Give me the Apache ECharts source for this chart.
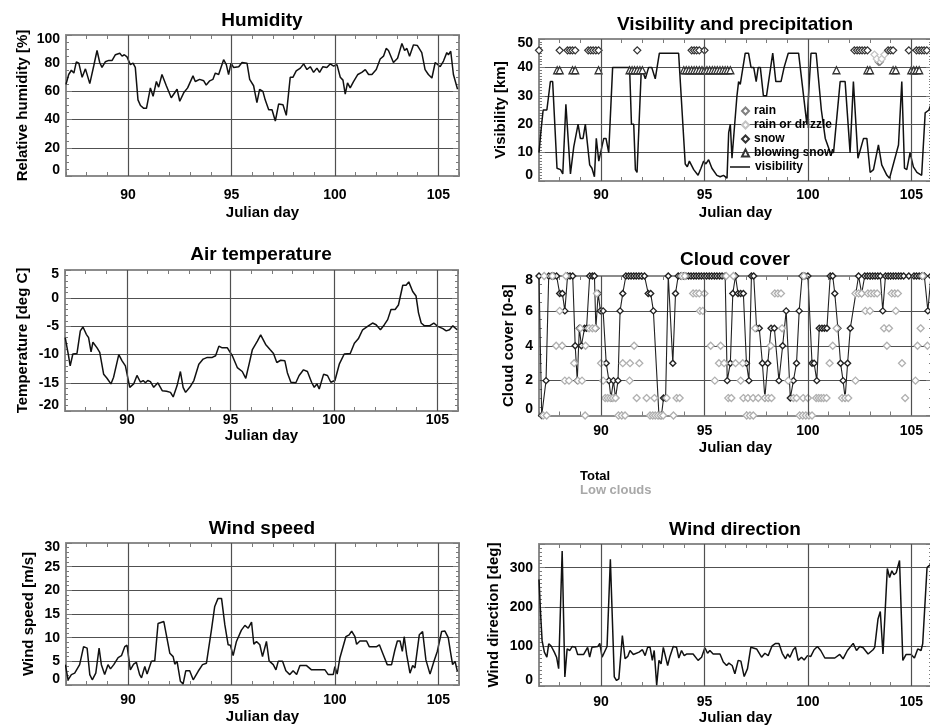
<!DOCTYPE html>
<html>
<head>
<meta charset="utf-8">
<title>Meteorological time series, Julian day 87-106</title>
<script src="https://cdn.jsdelivr.net/npm/echarts@6/dist/echarts.min.js"></script>
<style>
  html, body { margin: 0; padding: 0; background: #fff; }
  #chart { width: 930px; height: 727px; }
</style>
</head>
<body>
<div id="chart"></div>
<script>
// ---- data: [julian day, value] ----
const humidity = [[87.0,65],[87.13,72],[87.26,75],[87.38,73],[87.5,81],[87.62,80],[87.78,70],[87.94,76],[88.02,76],[88.15,65.5],[88.34,78],[88.5,89],[88.63,80.5],[88.74,77],[88.9,81],[89.07,82],[89.23,82],[89.39,86],[89.6,87],[89.71,85],[89.82,86],[89.95,84.5],[90.11,79],[90.24,80],[90.35,77],[90.48,54],[90.6,50],[90.76,48],[90.89,48],[91.08,62.5],[91.21,56.5],[91.37,67],[91.48,63],[91.64,72],[91.85,64],[92.09,55.5],[92.37,61.5],[92.5,53],[92.69,59],[92.88,62.5],[93.14,71],[93.25,67],[93.46,68.5],[93.66,67.5],[93.78,64.5],[93.95,67.5],[94.1,68.5],[94.22,73],[94.38,72],[94.62,82.5],[94.75,79],[94.86,72],[94.98,80],[95.1,77],[95.35,77.5],[95.51,80.5],[95.75,80],[95.88,68.5],[96.07,64],[96.23,52],[96.36,61.5],[96.52,60],[96.63,54],[96.8,47],[96.96,47],[97.12,39],[97.28,51],[97.49,50.5],[97.65,43],[97.84,70],[97.97,70],[98.13,74.5],[98.33,76.5],[98.49,79.5],[98.65,75.5],[98.81,77.5],[98.97,73.5],[99.13,76.5],[99.26,73.5],[99.42,77.5],[99.61,77],[99.77,79.5],[99.94,78],[100.1,79],[100.26,70],[100.39,68],[100.5,58],[100.61,66],[100.74,62.5],[100.9,67],[101.11,72],[101.3,73.5],[101.47,75.5],[101.63,72],[101.79,72],[102.0,75.5],[102.19,83],[102.35,85],[102.48,90.5],[102.59,89],[102.83,80.5],[103.03,83.5],[103.24,94],[103.37,89],[103.48,90.5],[103.61,85],[103.8,93],[103.99,92.5],[104.2,87.5],[104.36,75.5],[104.52,72],[104.69,69.5],[104.85,80.5],[105.09,77.5],[105.25,81.5],[105.41,87.5],[105.49,86],[105.6,88.5],[105.73,72],[105.93,61.5]];

const visibility = [[87.0,10],[87.1,18],[87.2,25],[87.38,25],[87.55,35],[87.66,35],[87.87,4.5],[88.04,4],[88.15,2.5],[88.3,27],[88.52,2.5],[88.68,12],[88.89,20],[89.0,15],[89.13,15],[89.24,20],[89.45,5.7],[89.56,4.5],[89.68,1.5],[89.77,15],[89.89,7],[90.13,15],[90.24,15],[90.37,10],[90.56,40],[91.38,40],[91.47,20],[91.58,20],[91.66,4],[91.74,3],[91.95,40],[92.14,36],[92.3,40],[92.45,40],[92.62,36],[92.82,45],[93.75,45],[94.07,6],[94.17,5],[94.27,7],[94.48,4],[94.69,2],[94.83,4.5],[94.96,7],[95.07,6],[95.2,7.5],[95.36,4.5],[95.6,2],[95.76,1.5],[95.92,2],[96.09,1],[96.17,17],[96.25,20],[96.33,8],[96.57,30],[96.65,35],[96.73,34],[96.97,45],[97.13,45],[97.25,40],[97.38,40],[97.5,35],[97.6,40],[97.7,40],[97.85,30],[98.0,30],[98.3,45],[98.45,35],[98.7,35],[98.85,40],[99.05,45],[99.55,45],[99.95,20],[100.15,45],[100.4,45],[100.65,25],[100.84,15],[101.08,10],[101.24,10],[101.56,35],[101.8,35],[102.04,10],[102.2,35],[102.42,8],[102.69,15],[102.85,15],[103.01,3],[103.17,4],[103.41,12.7],[103.57,5.7],[103.82,2],[103.95,1],[104.38,12.7],[104.54,35],[104.67,4.5],[104.78,4],[104.94,10],[105.1,5],[105.27,3],[105.5,2],[105.67,24],[105.85,25],[106.0,28]];

const rain = [[103.42,42],[103.48,42]];
const rainOrDrizzle = [[103.22,44.5],[103.33,43],[103.57,43],[103.7,44.5]];
const snowLevel = 46;
const snowDays = [87.0,88.0,88.38,88.5,88.62,88.75,89.38,89.5,89.62,89.75,89.88,91.75,94.38,94.5,94.62,94.75,95.0,102.25,102.38,102.5,102.62,102.75,102.88,103.88,104.0,104.12,104.88,105.25,105.38,105.5,105.62,105.75];
const blowingLevel = 39;
const blowingDays = [87.88,88.0,88.62,88.75,89.88,91.38,91.5,91.62,91.75,91.88,92.0,94.0,94.12,94.25,94.38,94.5,94.62,94.75,94.88,95.0,95.12,95.25,95.38,95.5,95.62,95.75,95.88,96.0,96.12,96.25,101.38,102.88,103.0,104.12,104.25,105.0,105.12,105.25,105.38];

const temperature = [[87.01,-7.0],[87.17,-10.2],[87.25,-12],[87.38,-9.9],[87.58,-9.8],[87.74,-5.8],[87.87,-5.1],[88.03,-6.4],[88.14,-7],[88.26,-9.5],[88.35,-7.8],[88.55,-8.8],[88.68,-9.6],[88.87,-13.5],[89.03,-14.2],[89.22,-15.2],[89.35,-14],[89.6,-10],[89.76,-11.1],[89.92,-12],[90.13,-15.8],[90.32,-15.2],[90.48,-13.7],[90.65,-14.9],[90.78,-14.6],[90.89,-15],[91.0,-14.6],[91.13,-14.8],[91.29,-15.8],[91.49,-15],[91.7,-16.4],[91.91,-16.5],[92.1,-16.7],[92.23,-17.5],[92.42,-15.5],[92.58,-13],[92.71,-15.8],[92.83,-16.7],[93.07,-15.6],[93.23,-14.6],[93.47,-11.7],[93.68,-10.8],[93.88,-10.5],[94.12,-10.5],[94.28,-10.2],[94.44,-8.5],[94.6,-8.8],[94.85,-8.8],[95.09,-10.2],[95.33,-12.3],[95.57,-13],[95.74,-14.2],[95.9,-11.7],[96.06,-9.1],[96.3,-7.6],[96.46,-6.5],[96.7,-8.2],[96.91,-9.1],[97.08,-9.8],[97.24,-11.4],[97.43,-11],[97.63,-11.1],[97.75,-13.2],[97.92,-14.9],[98.16,-15],[98.32,-13.7],[98.53,-12.7],[98.72,-13],[98.92,-14.9],[99.05,-15.8],[99.18,-15.2],[99.29,-16.1],[99.5,-13.5],[99.69,-13.7],[99.85,-14.9],[100.05,-14.6],[100.26,-11.7],[100.5,-9.9],[100.79,-9.8],[100.99,-8],[101.18,-7.2],[101.39,-5.6],[101.63,-5],[101.87,-4.4],[102.04,-4.7],[102.25,-5.6],[102.44,-4.7],[102.6,-3.8],[102.76,-2],[102.96,-2],[103.12,-1.2],[103.33,2.3],[103.49,2.3],[103.62,2.9],[103.81,1.2],[103.97,0.4],[104.09,-2.6],[104.22,-4.4],[104.38,-4.9],[104.62,-4.9],[104.83,-4.4],[105.02,-5],[105.27,-5.4],[105.43,-5.8],[105.59,-5.6],[105.75,-4.9],[105.96,-5.6]];

const cloudTotal = [[87.0,8],[87.13,0],[87.34,2],[87.47,8],[87.6,8],[87.72,8],[87.85,8],[88.0,7],[88.13,7],[88.25,6],[88.38,8],[88.5,8],[88.63,8],[88.75,4],[88.85,2],[88.95,5],[89.05,4],[89.2,5],[89.3,5],[89.45,8],[89.58,8],[89.68,8],[89.75,5],[89.86,7],[89.97,6],[90.1,6],[90.25,3],[90.38,2],[90.48,1],[90.6,2],[90.7,1],[90.82,2],[90.92,6],[91.05,7],[91.2,8],[91.33,8],[91.45,8],[91.58,8],[91.7,8],[91.83,8],[91.95,8],[92.1,8],[92.28,7],[92.4,7],[92.53,6],[92.8,0],[92.92,0],[93.02,1],[93.12,1],[93.25,8],[93.47,3],[93.6,7],[93.73,8],[93.85,8],[93.98,8],[94.1,8],[94.23,8],[94.35,8],[94.48,8],[94.6,8],[94.73,8],[94.85,8],[94.98,8],[95.1,8],[95.23,8],[95.35,8],[95.48,8],[95.6,8],[95.73,8],[95.85,8],[96.0,8],[96.1,2],[96.25,3],[96.37,7],[96.5,8],[96.62,7],[96.75,7],[96.88,7],[97.03,3],[97.15,2],[97.27,8],[97.38,8],[97.52,5],[97.65,5],[97.8,3],[97.92,1],[98.06,3],[98.22,5],[98.38,5],[98.6,2],[98.78,4],[98.95,6],[99.15,1],[99.3,2],[99.45,3],[99.58,6],[99.72,8],[99.85,8],[100.0,8],[100.2,3],[100.3,3],[100.43,2],[100.55,5],[100.68,5],[100.8,5],[100.92,5],[101.08,8],[101.2,8],[101.3,7],[101.45,5],[101.58,3],[101.7,2],[101.8,1],[101.92,3],[102.05,5],[102.45,8],[102.6,7],[102.75,8],[102.88,8],[103.0,8],[103.13,8],[103.25,8],[103.38,8],[103.5,8],[103.62,6],[103.75,8],[103.88,8],[104.0,8],[104.13,8],[104.25,8],[104.38,8],[104.5,8],[104.63,8],[104.88,8],[105.13,8],[105.25,8],[105.38,8],[105.5,8],[105.63,8],[105.8,6],[105.95,8]];

const lowClouds = [
  [87.2,0],[87.37,0],[89.23,0],[90.84,0],[91.0,0],[91.16,0],[92.37,0],[92.5,0],[92.62,0],[92.75,0],[92.88,0],[93.0,0],[93.5,0],[97.04,0],[97.2,0],[97.36,0],[99.6,0],[99.75,0],[99.9,0],[100.05,0],[100.2,0],
  [90.2,1],[90.32,1],[90.45,1],[90.57,1],[90.7,1],[91.72,1],[92.2,1],[92.58,1],[93.17,1],[93.65,1],[93.8,1],[96.15,1],[96.3,1],[96.88,1],[97.1,1],[97.35,1],[97.6,1],[97.92,1],[98.08,1],[98.24,1],[99.3,1],[99.45,1],[99.77,1],[100.0,1],[100.4,1],[100.52,1],[100.64,1],[100.76,1],[100.9,1],[101.65,1],[101.8,1],[101.95,1],[104.7,1],
  [88.25,2],[88.45,2],[88.88,2],[89.08,2],[90.1,2],[91.38,2],[95.5,2],[96.75,2],[99.05,2],[102.3,2],[105.2,2],
  [88.7,3],[90.0,3],[91.05,3],[91.4,3],[91.85,3],[95.7,3],[95.95,3],[96.5,3],[96.85,3],[101.05,3],[104.55,3],
  [87.83,4],[88.12,4],[89.25,4],[91.6,4],[95.3,4],[95.78,4],[98.2,4],[101.2,4],[103.82,4],[105.3,4],[105.78,4],
  [89.0,5],[89.42,5],[89.58,5],[89.72,5],[97.45,5],[98.75,5],[101.39,5],[103.68,5],[103.92,5],[105.45,5],
  [88.0,6],[94.78,6],[94.92,6],[102.78,6],[103.0,6],[104.25,6],
  [89.8,7],[94.45,7],[94.6,7],[94.75,7],[95.0,7],[98.4,7],[98.55,7],[98.7,7],[102.3,7],[102.45,7],[102.6,7],[102.9,7],[103.05,7],[103.2,7],[103.35,7],[104.05,7],[104.2,7],[104.35,7],
  [87.25,8],[87.65,8],[88.3,8],[93.9,8],[94.05,8],[96.05,8],[96.4,8],[99.8,8],[105.55,8]
];

const windSpeed = [[86.97,4.3],[87.1,1.1],[87.26,2.2],[87.42,2.5],[87.66,4.3],[87.85,8.1],[88.02,7.8],[88.15,2.2],[88.27,1.1],[88.44,2.5],[88.6,7.8],[88.71,4.3],[88.87,2.2],[89.03,4.3],[89.15,3.4],[89.31,4.3],[89.52,5.8],[89.68,6.2],[89.84,8.1],[89.95,8.4],[90.11,3.2],[90.27,4.4],[90.4,4.8],[90.56,2.2],[90.65,1.5],[90.81,3.9],[90.92,2.3],[91.13,5],[91.29,5.1],[91.45,13],[91.73,13.4],[92.02,6.7],[92.18,6],[92.26,4.4],[92.37,5],[92.53,0.8],[92.66,0.2],[92.79,3],[92.98,3],[93.15,1.1],[93.39,2.9],[93.6,4.3],[93.79,4.6],[94.03,11.6],[94.19,16.6],[94.35,18.3],[94.52,18.3],[94.68,12.7],[94.84,8.5],[94.95,8.4],[95.08,6.2],[95.24,9.2],[95.48,11.6],[95.65,12.6],[95.81,12],[95.97,13.3],[96.08,8.6],[96.21,9.2],[96.37,8.5],[96.5,6],[96.69,9.2],[96.82,5.1],[97.02,4.3],[97.15,3.2],[97.26,5],[97.47,5],[97.63,3],[97.82,2.2],[97.98,3],[98.15,2.2],[98.31,4.1],[98.63,4.1],[98.87,3.2],[99.52,3.2],[99.68,2.2],[99.92,2.2],[100.0,3.9],[100.11,2.3],[100.24,5.7],[100.53,10.2],[100.69,10.6],[100.81,11.4],[100.97,10.2],[101.05,8.6],[101.21,9.3],[101.53,9.3],[101.66,8.1],[102.02,8.1],[102.15,8.5],[102.34,6.4],[102.53,4.3],[102.74,4.3],[102.9,7.4],[103.02,9.3],[103.15,9.3],[103.26,7.1],[103.35,10.2],[103.47,6.4],[103.63,2.5],[103.76,4.1],[103.87,3.6],[104.08,10.6],[104.24,11.3],[104.4,5.3],[104.6,2.3],[104.79,5],[104.95,7.1],[105.16,11.3],[105.32,11.4],[105.48,10],[105.6,6.7],[105.69,4.3],[105.81,5],[105.92,2.9]];

const windDir = [[87.0,270],[87.08,180],[87.15,115],[87.26,86],[87.38,73],[87.47,107],[87.58,102],[87.74,86],[87.85,73],[87.95,44],[88.12,342],[88.25,23],[88.36,94],[88.49,90],[88.6,100],[88.76,98],[88.87,80],[89.16,80],[89.35,98],[89.45,73],[89.56,98],[89.84,100],[89.94,108],[90.05,73],[90.29,100],[90.45,321],[90.64,23],[90.75,14],[90.86,18],[91.03,128],[91.16,69],[91.29,75],[91.4,90],[91.56,80],[91.84,86],[92.0,92],[92.13,77],[92.25,98],[92.37,98],[92.48,65],[92.57,90],[92.69,2],[92.8,65],[92.9,56],[93.01,98],[93.22,52],[93.33,75],[93.49,100],[93.65,98],[93.76,71],[93.89,90],[94.02,77],[94.13,81],[94.45,81],[94.69,65],[94.86,73],[95.02,97],[95.15,83],[95.26,90],[95.42,81],[95.75,81],[95.91,61],[96.07,52],[96.18,58],[96.34,52],[96.47,31],[96.63,65],[96.76,63],[96.92,24],[97.08,44],[97.24,98],[97.52,94],[97.76,73],[97.92,83],[98.08,77],[98.27,102],[98.44,108],[98.6,108],[98.76,83],[98.92,69],[99.02,81],[99.13,73],[99.29,92],[99.4,98],[99.53,65],[99.69,73],[99.82,66],[99.98,77],[100.14,75],[100.3,92],[100.46,100],[100.62,90],[100.82,71],[101.3,71],[101.54,80],[101.7,69],[101.91,90],[102.19,108],[102.35,90],[102.51,100],[102.67,97],[102.91,81],[103.15,92],[103.23,98],[103.39,170],[103.5,189],[103.63,81],[103.84,298],[103.95,275],[104.06,292],[104.16,282],[104.27,287],[104.43,318],[104.59,65],[104.75,80],[104.99,80],[105.15,71],[105.31,94],[105.47,90],[105.55,107],[105.76,300],[105.92,308]];

const dayGridLines = [90, 95, 100, 105];

// ---- styling ----
const FONT = '"Liberation Sans", Arial, Helvetica, sans-serif';
const frameStyle = {color: '#8c8c8c', width: 2};
const tickStyle = {color: '#7a7a7a', width: 1};
const gridStyle = {color: '#505050', width: 1.2, type: 'solid'};
const tickFont = {color: '#000', fontFamily: FONT, fontWeight: 'bold', fontSize: 14};
const nameFont = {color: '#000', fontFamily: FONT, fontWeight: 'bold', fontSize: 15};
const legendFont = {color: '#000', fontFamily: FONT, fontWeight: 'bold', fontSize: 12};

function xPair(gi, labelMargin, nameGap) {
  const common = {
    type: 'value', gridIndex: gi, min: 87, max: 106, interval: 1,
    axisLine: {show: true, onZero: false, lineStyle: frameStyle},
    axisTick: {show: true, inside: true, length: 4, lineStyle: tickStyle},
    splitLine: {show: false}
  };
  return [
    Object.assign({}, common, {
      position: 'bottom', name: 'Julian day', nameLocation: 'middle', nameGap: nameGap,
      nameTextStyle: nameFont,
      axisLabel: Object.assign({margin: labelMargin, formatter: v => (v % 5 === 0 ? String(v) : '')}, tickFont)
    }),
    Object.assign({}, common, {position: 'top', axisLabel: {show: false}})
  ];
}

function yPair(gi, min, max, interval, minorSplit, name, nameGap, hideMax) {
  const common = {
    type: 'value', gridIndex: gi, min: min, max: max, interval: interval,
    axisLine: {show: true, onZero: false, lineStyle: frameStyle},
    axisTick: {show: true, inside: true, length: 6, lineStyle: tickStyle},
    minorTick: {show: true, splitNumber: minorSplit, length: 3, lineStyle: tickStyle}
  };
  return [
    Object.assign({}, common, {
      position: 'left', name: name, nameLocation: 'middle', nameGap: nameGap, nameTextStyle: nameFont,
      splitLine: {show: true, lineStyle: gridStyle},
      axisLabel: Object.assign({
        margin: 6,
        formatter: v => (v === max ? (hideMax ? '' : '{hi|' + v + '}') : v === min ? '{lo|' + v + '}' : String(v)),
        rich: {
          hi: Object.assign({padding: [8, 0, 0, 0]}, tickFont),
          lo: Object.assign({padding: [0, 0, 12, 0]}, tickFont)
        }
      }, tickFont)
    }),
    Object.assign({}, common, {position: 'right', axisLabel: {show: false}, splitLine: {show: false}})
  ];
}

const dayLines = {
  silent: true, symbol: 'none', label: {show: false},
  lineStyle: gridStyle, emphasis: {disabled: true},
  data: dayGridLines.map(d => ({xAxis: d}))
};

function lineSeries(gi, name, data, extra) {
  return Object.assign({
    type: 'line', name: name, xAxisIndex: 2 * gi, yAxisIndex: 2 * gi, data: data,
    symbol: 'none', lineStyle: {color: '#111', width: 1.5}, itemStyle: {color: '#111'},
    markLine: dayLines, z: 3
  }, extra || {});
}

function markerSeries(gi, name, data, symbol, border) {
  return {
    type: 'scatter', name: name, xAxisIndex: 2 * gi, yAxisIndex: 2 * gi, data: data,
    symbol: symbol, symbolSize: 7, symbolKeepAspect: true,
    itemStyle: {color: '#fff', borderColor: border, borderWidth: 1.3, opacity: 1}, z: 4
  };
}

const chart = echarts.init(document.getElementById('chart'), null, {renderer: 'canvas'});

const option = {
  animation: false,
  backgroundColor: '#fff',
  title: [
    {text: 'Humidity', left: 262, top: 11},
    {text: 'Visibility and precipitation', left: 735, top: 15},
    {text: 'Air temperature', left: 261, top: 245},
    {text: 'Cloud cover', left: 735, top: 250},
    {text: 'Wind speed', left: 262, top: 519},
    {text: 'Wind direction', left: 735, top: 520}
  ].map(t => Object.assign(t, {
    textAlign: 'center', padding: 0,
    textStyle: {color: '#000', fontFamily: FONT, fontWeight: 'bold', fontSize: 19}
  })),
  grid: [
    {left: 66, top: 35, width: 393, height: 141},
    {left: 539, top: 39, width: 393, height: 142},
    {left: 65, top: 270, width: 393, height: 141},
    {left: 539, top: 276, width: 393, height: 139.5},
    {left: 66, top: 543, width: 393, height: 142},
    {left: 539, top: 544, width: 393, height: 142}
  ].map(g => Object.assign(g, {show: false, containLabel: false, outerBoundsMode: 'none'})),
  legend: [
    {
      data: ['rain', 'rain or drizzle', 'snow', 'blowing snow'],
      orient: 'vertical', left: 741, top: 105, padding: 0,
      itemWidth: 7, itemHeight: 7, itemGap: 2, selectedMode: false,
      textStyle: legendFont
    },
    {
      data: [{name: 'visibility', icon: 'rect'}],
      orient: 'vertical', left: 730, top: 161, padding: 0,
      itemWidth: 20, itemHeight: 1.5, selectedMode: false,
      textStyle: legendFont
    }
  ],
  xAxis: [].concat(
    xPair(0, 12, 29), xPair(1, 7, 24), xPair(2, 2, 14),
    xPair(3, 9, 25), xPair(4, 8, 24), xPair(5, 9, 23)
  ),
  yAxis: [].concat(
    yPair(0, 0, 100, 20, 4, 'Relative humidity [%]', 36),
    yPair(1, 0, 50, 10, 10, 'Visibility [km]', 31),
    yPair(2, -20, 5, 5, 5, 'Temperature [deg C]', 35),
    yPair(3, 0, 8, 2, 4, 'Cloud cover [0-8]', 23),
    yPair(4, 0, 30, 5, 5, 'Wind speed [m/s]', 30),
    yPair(5, 0, 360, 100, 10, 'Wind direction [deg]', 38, true)
  ),
  graphic: [
    {type: 'text', left: 580, top: 470, style: {text: 'Total', fill: '#000', font: 'bold 13px ' + FONT}},
    {type: 'text', left: 580, top: 484, style: {text: 'Low clouds', fill: '#a8a8a8', font: 'bold 13px ' + FONT}}
  ],
  series: [
    lineSeries(0, 'humidity', humidity),
    lineSeries(1, 'visibility', visibility),
    markerSeries(1, 'rain', rain, 'diamond', '#808080'),
    markerSeries(1, 'rain or drizzle', rainOrDrizzle, 'diamond', '#c4c4c4'),
    markerSeries(1, 'snow', snowDays.map(d => [d, snowLevel]), 'diamond', '#333'),
    markerSeries(1, 'blowing snow', blowingDays.map(d => [d, blowingLevel]), 'triangle', '#333'),
    lineSeries(2, 'temperature', temperature),
    markerSeries(3, 'Low clouds', lowClouds, 'diamond', '#b0b0b0'),
    lineSeries(3, 'Total', cloudTotal, {
      symbol: 'diamond', symbolSize: 6, showSymbol: true,
      lineStyle: {color: '#222', width: 1.1},
      itemStyle: {color: '#fff', borderColor: '#222', borderWidth: 1.4}
    }),
    lineSeries(4, 'wind speed', windSpeed),
    lineSeries(5, 'wind direction', windDir)
  ]
};

chart.setOption(option);
</script>
</body>
</html>
